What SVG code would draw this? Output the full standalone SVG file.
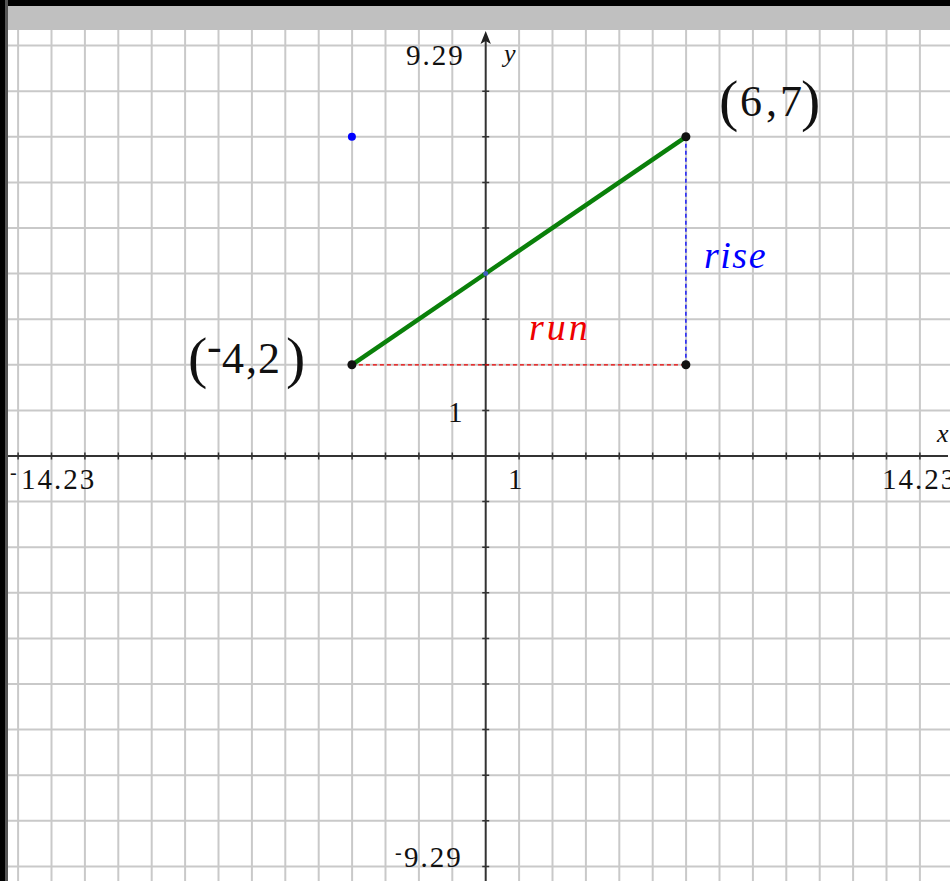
<svg xmlns="http://www.w3.org/2000/svg" width="950" height="881" viewBox="0 0 950 881">
<style>
.grid{stroke:#c9c9c9;stroke-width:2;fill:none}
.axis{stroke:#333;stroke-width:2;fill:none}
.tick{stroke:#333;stroke-width:1.5;fill:none}
.num{font-family:"Liberation Serif","Times New Roman",serif;font-size:29px;fill:#111;letter-spacing:2px}
.coord{font-family:"Liberation Serif","Times New Roman",serif;font-size:44px;fill:#111}
.paren{font-family:"Liberation Serif","Times New Roman",serif;font-size:58px;fill:#111}
.ital{font-family:"Liberation Serif","Times New Roman",serif;font-style:italic}
</style>
<rect x="0" y="0" width="950" height="881" fill="#fff"/>
<g id="grid">
<path class="grid" d="M18.1 30V881M51.5 30V881M84.9 30V881M118.3 30V881M151.7 30V881M185.1 30V881M218.5 30V881M251.9 30V881M285.3 30V881M318.7 30V881M352.1 30V881M385.5 30V881M418.9 30V881M452.3 30V881M519.1 30V881M552.5 30V881M585.9 30V881M619.3 30V881M652.7 30V881M686.1 30V881M719.5 30V881M752.9 30V881M786.3 30V881M819.7 30V881M853.1 30V881M886.5 30V881M919.9 30V881"/>
<path class="grid" d="M8 45.6H950M8 91.2H950M8 136.8H950M8 182.4H950M8 228H950M8 273.6H950M8 319.2H950M8 364.8H950M8 410.4H950M8 501.6H950M8 547.2H950M8 592.8H950M8 638.4H950M8 684H950M8 729.6H950M8 775.2H950M8 820.8H950M8 866.4H950"/>
</g>
<g id="axes">
<path class="axis" d="M8 456H948"/>
<path class="axis" d="M485.7 40V881"/>
<polygon points="485.7,31 480.5,44 485.7,41 490.9,44" fill="#222"/>
<path class="tick" d="M18.1 452.5v7M51.5 452.5v7M84.9 452.5v7M118.3 452.5v7M151.7 452.5v7M185.1 452.5v7M218.5 452.5v7M251.9 452.5v7M285.3 452.5v7M318.7 452.5v7M352.1 452.5v7M385.5 452.5v7M418.9 452.5v7M452.3 452.5v7M519.1 452.5v7M552.5 452.5v7M585.9 452.5v7M619.3 452.5v7M652.7 452.5v7M686.1 452.5v7M719.5 452.5v7M752.9 452.5v7M786.3 452.5v7M819.7 452.5v7M853.1 452.5v7M886.5 452.5v7M919.9 452.5v7"/>
<path class="tick" d="M482.2 91.2h7M482.2 136.8h7M482.2 182.4h7M482.2 228h7M482.2 273.6h7M482.2 319.2h7M482.2 364.8h7M482.2 410.4h7M482.2 501.6h7M482.2 547.2h7M482.2 592.8h7M482.2 638.4h7M482.2 684h7M482.2 729.6h7M482.2 775.2h7M482.2 820.8h7M482.2 866.4h7"/>
<text class="num" x="406" y="65">9.29</text>
<text class="num" y="867"><tspan x="395" font-size="20" dy="-8">-</tspan><tspan x="404" dy="8">9.29</tspan></text>
<text class="num" y="489"><tspan x="10" font-size="20" dy="-10">-</tspan><tspan x="21" dy="10">14.23</tspan></text>
<text class="num" x="882" y="489">14.23</text>
<text class="num" x="448" y="422">1</text>
<text class="num" x="508" y="489">1</text>
<text class="ital" x="504" y="62" font-size="26" fill="#111">y</text>
<text class="ital" x="937" y="442" font-size="26" fill="#111">x</text>
</g>
<g id="connectors">
<line x1="351.9" y1="364.8" x2="685.9" y2="364.8" stroke="#e00" stroke-width="1.3" stroke-dasharray="4 3"/>
<line x1="685.9" y1="136.8" x2="685.9" y2="364.8" stroke="#00f" stroke-width="1.3" stroke-dasharray="4 3"/>
<line x1="351.9" y1="364.8" x2="685.9" y2="136.8" stroke="#0a800a" stroke-width="4.5"/>
</g>
<g id="point-a">
<circle cx="351.9" cy="364.8" r="4.5" fill="#111"/>
<text y="373"><tspan class="paren" x="188" y="377">(</tspan><tspan class="coord" font-size="20" x="207" y="361">-</tspan><tspan class="coord" x="222" y="373">4</tspan><tspan class="coord" x="246" y="373">,</tspan><tspan class="coord" x="258" y="373">2</tspan><tspan class="paren" x="286" y="377">)</tspan></text>
</g>
<g id="point-b">
<circle cx="685.9" cy="136.8" r="4.5" fill="#111"/>
<text y="116"><tspan class="paren" x="719" y="120">(</tspan><tspan class="coord" x="740" y="116">6</tspan><tspan class="coord" x="766" y="116">,</tspan><tspan class="coord" x="780" y="116">7</tspan><tspan class="paren" x="801" y="120">)</tspan></text>
</g>
<g id="point-c">
<circle cx="685.9" cy="364.8" r="4.5" fill="#111"/>
</g>
<g id="point-d">
<circle cx="351.9" cy="136.8" r="4" fill="#00f"/>
</g>
<g id="intercept">
<circle cx="485.7" cy="273.6" r="2.5" fill="#4060c0"/>
</g>
<g id="labels">
<text class="ital" x="704" y="268" font-size="38" fill="#00f" letter-spacing="1.5">rise</text>
<text class="ital" x="529" y="340" font-size="38" fill="#e00" letter-spacing="3">run</text>
</g>
<g id="frame">
<rect x="0" y="0" width="950" height="6" fill="#000"/>
<rect x="0" y="6" width="950" height="24" fill="#c0c0c0"/>
<rect x="0" y="0" width="5" height="881" fill="#000"/>
<rect x="5" y="0" width="3" height="881" fill="#555"/>
</g>
</svg>
